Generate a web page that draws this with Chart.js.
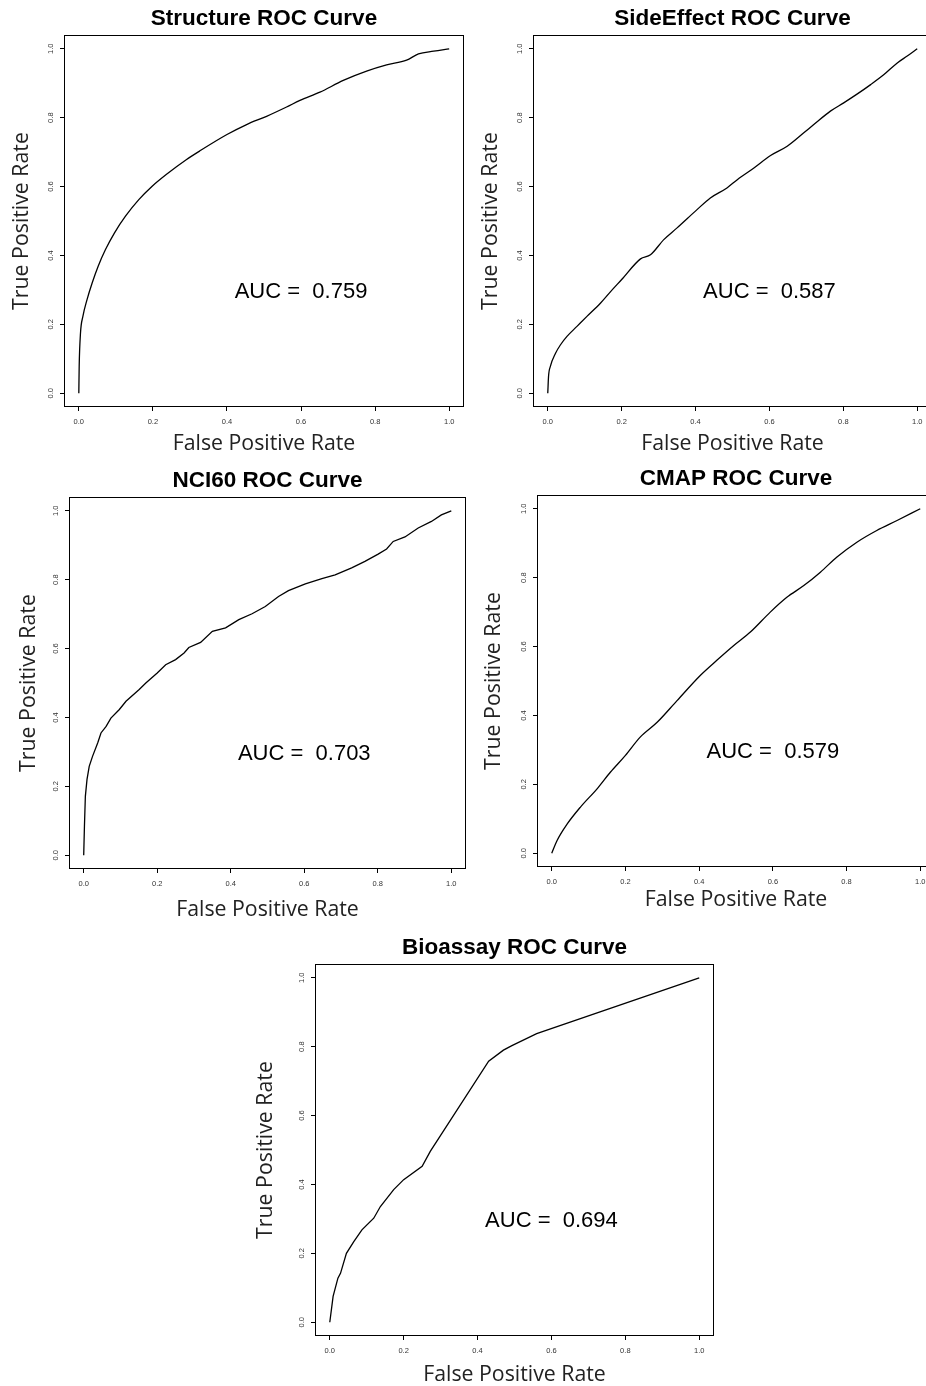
<!DOCTYPE html>
<html>
<head>
<meta charset="utf-8">
<script src="https://cdn.jsdelivr.net/npm/chart.js@4.4.1/dist/chart.umd.min.js"></script>
<style>
html,body{margin:0;padding:0;background:#fff;width:926px;height:1386px;overflow:hidden;position:relative}
canvas{position:absolute;display:block}
</style>
</head>
<body>
<script>
// ---------- data ----------
const panelTitles = ['Structure ROC Curve', 'SideEffect ROC Curve', 'NCI60 ROC Curve', 'CMAP ROC Curve', 'Bioassay ROC Curve'];
const aucLabels = ['0.759', '0.587', '0.703', '0.579', '0.694'];
const tickValues = [0, 0.2, 0.4, 0.6, 0.8, 1.0];
const tickLabels = ['0.0', '0.2', '0.4', '0.6', '0.8', '1.0'];
const xAxisTitle = 'False Positive Rate';
const yAxisTitle = 'True Positive Rate';

const structureFpr = [0, 0.001, 0.0045, 0.011, 0.022, 0.036, 0.052, 0.072, 0.096, 0.126, 0.162, 0.198, 0.236, 0.29, 0.326, 0.4, 0.453, 0.507, 0.561, 0.597, 0.651, 0.714, 0.777, 0.831, 0.885, 0.917, 0.958, 1.0];
const structureTpr = [0, 0.078, 0.174, 0.223, 0.271, 0.32, 0.368, 0.417, 0.465, 0.514, 0.562, 0.601, 0.635, 0.678, 0.703, 0.751, 0.78, 0.804, 0.831, 0.85, 0.874, 0.908, 0.935, 0.953, 0.967, 0.985, 0.993, 1.0];

const sideEffectFpr = [0, 0.002, 0.007, 0.021, 0.034, 0.052, 0.079, 0.106, 0.143, 0.17, 0.2, 0.251, 0.278, 0.314, 0.35, 0.404, 0.44, 0.485, 0.513, 0.558, 0.603, 0.648, 0.693, 0.72, 0.765, 0.801, 0.838, 0.874, 0.91, 0.946, 0.973, 1.0];
const sideEffectTpr = [0, 0.048, 0.078, 0.116, 0.14, 0.165, 0.194, 0.223, 0.262, 0.295, 0.33, 0.39, 0.402, 0.446, 0.48, 0.533, 0.567, 0.596, 0.62, 0.654, 0.69, 0.717, 0.756, 0.78, 0.819, 0.843, 0.869, 0.896, 0.925, 0.959, 0.979, 1.0];

const nci60Fpr = [0, 0.002, 0.0045, 0.009, 0.015, 0.024, 0.038, 0.047, 0.061, 0.074, 0.097, 0.115, 0.151, 0.169, 0.2, 0.223, 0.25, 0.273, 0.286, 0.318, 0.35, 0.386, 0.422, 0.458, 0.494, 0.53, 0.557, 0.603, 0.648, 0.684, 0.729, 0.765, 0.801, 0.824, 0.842, 0.874, 0.91, 0.946, 0.973, 1.0];
const nci60Tpr = [0, 0.084, 0.171, 0.22, 0.258, 0.287, 0.326, 0.355, 0.374, 0.398, 0.423, 0.447, 0.481, 0.5, 0.529, 0.553, 0.568, 0.587, 0.603, 0.618, 0.65, 0.66, 0.684, 0.701, 0.722, 0.751, 0.768, 0.788, 0.803, 0.814, 0.834, 0.853, 0.874, 0.889, 0.911, 0.924, 0.95, 0.969, 0.988, 1.0];

const cmapFpr = [0, 0.0145, 0.042, 0.078, 0.123, 0.159, 0.2, 0.24, 0.286, 0.34, 0.403, 0.448, 0.494, 0.539, 0.593, 0.638, 0.684, 0.729, 0.774, 0.828, 0.882, 0.937, 1.0];
const cmapTpr = [0, 0.037, 0.085, 0.134, 0.187, 0.235, 0.284, 0.337, 0.38, 0.443, 0.516, 0.56, 0.603, 0.642, 0.70, 0.743, 0.777, 0.816, 0.86, 0.903, 0.937, 0.966, 1.0];

const bioassayFpr = [0, 0.009, 0.022, 0.029, 0.045, 0.065, 0.087, 0.119, 0.137, 0.173, 0.2, 0.25, 0.272, 0.43, 0.47, 0.493, 0.56, 1.0];
const bioassayTpr = [0, 0.075, 0.128, 0.142, 0.2, 0.234, 0.268, 0.302, 0.336, 0.385, 0.414, 0.453, 0.496, 0.758, 0.79, 0.803, 0.838, 1.0];

const aucX = 0.6, aucY = 0.3;

// ---------- layout (page pixels) ----------
const layoutBoxes = [
  {l: 64,  t: 35,  w: 400, h: 372, xg: 37.2, yg: 42},
  {l: 533, t: 35,  w: 399, h: 372, xg: 37.3, yg: 42},
  {l: 69,  t: 497, w: 397, h: 372, xg: 40.7, yg: 39.8},
  {l: 537, t: 495, w: 398, h: 372, xg: 32.7, yg: 43},
  {l: 315, t: 964, w: 399, h: 372, xg: 39,   yg: 48.8}
];
const AX = 70, TT = 40;
const SANS = "'Liberation Sans', Arial, Helvetica, sans-serif";
const LABEL_FONT = "'Open Sans', 'Noto Sans', sans-serif";
const LABEL_SIZE = 21.3;
const LABEL_HALF = LABEL_SIZE * 1.2 / 2;
const AUC_SIZE = 22;

function makePanel(i, fpr, tpr, smooth) {
  const box = layoutBoxes[i];
  const W = box.w + 2 * AX, H = box.h + TT + AX;
  const c = document.createElement('canvas');
  c.width = W; c.height = H;
  c.style.left = (box.l - AX) + 'px';
  c.style.top = (box.t - TT) + 'px';
  c.style.width = W + 'px';
  c.style.height = H + 'px';
  document.body.appendChild(c);

  const pts = fpr.map((x, k) => ({x: x, y: tpr[k]}));

  const framePlugin = {
    id: 'frame' + i,
    afterDraw(chart) {
      const a = chart.chartArea, ctx = chart.ctx;
      ctx.save();
      ctx.strokeStyle = '#000';
      ctx.lineWidth = 1;
      ctx.strokeRect(a.left + 0.5, a.top + 0.5, a.right - a.left - 1, a.bottom - a.top - 1);
      ctx.restore();
    },
    afterDatasetsDraw(chart) {
      const ctx = chart.ctx;
      const px = chart.scales.x.getPixelForValue(aucX);
      const py = chart.scales.y.getPixelForValue(aucY);
      ctx.save();
      ctx.fillStyle = '#000';
      ctx.font = AUC_SIZE + 'px ' + SANS;
      ctx.textAlign = 'center';
      ctx.textBaseline = 'alphabetic';
      ctx.fillText('AUC =  ' + aucLabels[i], px, py + 0.358 * AUC_SIZE);
      ctx.restore();
    }
  };

  const tickCommon = {
    callback: (v, idx) => tickLabels[idx],
    color: '#333',
    font: {family: SANS, size: 7.5},
    autoSkip: false
  };
  const gridCommon = {drawOnChartArea: false, drawTicks: true, tickLength: 4, color: '#000', lineWidth: 1};

  new Chart(c, {
    type: 'scatter',
    data: {
      datasets: [{
        data: pts,
        showLine: true,
        borderColor: '#000',
        borderWidth: 1.3,
        pointRadius: 0,
        pointHoverRadius: 0,
        fill: false,
        tension: 0,
        cubicInterpolationMode: smooth ? 'monotone' : 'default'
      }]
    },
    options: {
      responsive: false,
      animation: false,
      devicePixelRatio: 1,
      events: [],
      layout: {padding: {left: 0, top: 0, right: AX, bottom: 0}, autoPadding: false},
      plugins: {
        legend: {display: false},
        tooltip: {enabled: false},
        title: {
          display: true,
          fullSize: false,
          text: panelTitles[i],
          color: '#000',
          font: {family: SANS, size: 22.5, weight: 'bold', lineHeight: 1.2},
          padding: {top: 9.9, bottom: 3.1}
        }
      },
      scales: {
        x: {
          type: 'linear', position: 'bottom', min: -0.04, max: 1.04,
          afterBuildTicks: s => { s.ticks = tickValues.map(v => ({value: v})); },
          afterFit: s => { s.height = AX; },
          ticks: Object.assign({}, tickCommon, {padding: 6, maxRotation: 0, minRotation: 0}),
          grid: gridCommon,
          border: {display: false},
          title: {
            display: true, text: xAxisTitle, color: '#222',
            font: {family: LABEL_FONT, size: LABEL_SIZE, lineHeight: 1.2},
            padding: {top: 0, bottom: AX - box.xg - LABEL_HALF}
          }
        },
        y: {
          type: 'linear', position: 'left', min: -0.04, max: 1.04,
          afterBuildTicks: s => { s.ticks = tickValues.map(v => ({value: v})); },
          afterFit: s => { s.width = AX; },
          ticks: Object.assign({}, tickCommon, {padding: 3.8, minRotation: 90, maxRotation: 90, crossAlign: 'center'}),
          grid: gridCommon,
          border: {display: false},
          title: {
            display: true, text: yAxisTitle, color: '#222',
            font: {family: LABEL_FONT, size: LABEL_SIZE, lineHeight: 1.2},
            padding: {top: AX - box.yg - LABEL_HALF, bottom: 0}
          }
        }
      }
    },
    plugins: [framePlugin]
  });
}

makePanel(0, structureFpr, structureTpr, true);
makePanel(1, sideEffectFpr, sideEffectTpr, true);
makePanel(2, nci60Fpr, nci60Tpr, false);
makePanel(3, cmapFpr, cmapTpr, true);
makePanel(4, bioassayFpr, bioassayTpr, false);
</script>
</body>
</html>
